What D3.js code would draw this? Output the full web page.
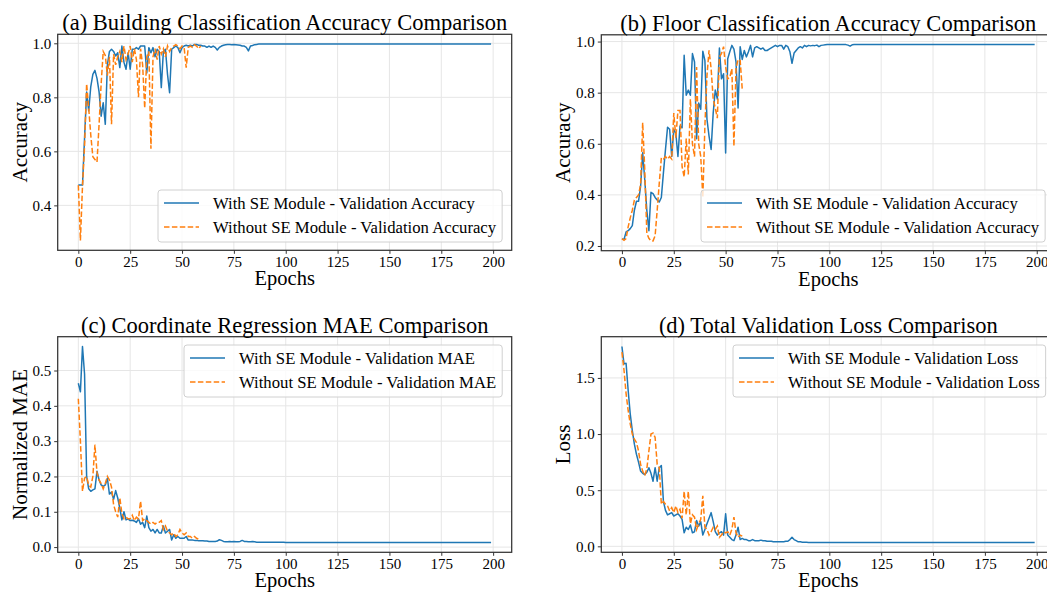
<!DOCTYPE html>
<html><head><meta charset="utf-8">
<script src="https://cdn.jsdelivr.net/npm/d3@7"></script>
<style>
body{margin:0;background:#fff}
svg{display:block}
text{font-family:"Liberation Serif","Times New Roman",serif;fill:#000}
</style>
</head><body>
<svg id="chart" width="1047" height="592"></svg>
<script>
// ---------------- DATA ----------------
const epochTicks = [0, 25, 50, 75, 100, 125, 150, 175, 200];

// (a) Building classification accuracy
const aWith = [
0.475,0.475,0.475,0.65,0.82,0.75,0.84,0.885,0.90,0.87,
0.82,0.73,0.78,0.70,0.92,0.97,0.978,0.97,0.953,0.965,
0.91,0.99,0.93,0.904,0.965,0.904,0.978,0.978,0.984,0.978,
0.99,0.99,0.99,0.89,0.984,0.965,0.984,0.95,0.978,0.97,
0.836,0.97,0.978,0.885,0.817,0.978,0.984,0.99,0.984,0.965,
0.984,0.99,0.993,0.99,0.993,0.99,0.996,0.996,0.993,0.993,
0.99,0.99,0.985,0.99,0.985,0.99,0.985,0.975,0.985,0.99,
0.993,0.995,0.996,0.996,0.995,0.996,0.995,0.994,0.993,0.99,
0.99,0.985,0.972,0.99,0.992,0.995,0.996,0.997,0.997,0.997,
0.997,0.997,0.997,0.997,0.997,0.997,0.997,0.997,0.997,0.997,
0.997,0.997,0.997,0.997,0.997,0.997,0.997,0.997,0.997,0.997,
0.997,0.997,0.997,0.997,0.997,0.997,0.997,0.997,0.997,0.997,
0.997,0.997,0.997,0.997,0.997,0.997,0.997,0.997,0.997,0.997,
0.997,0.997,0.997,0.997,0.997,0.997,0.997,0.997,0.997,0.997,
0.997,0.997,0.997,0.997,0.997,0.997,0.997,0.997,0.997,0.997,
0.997,0.997,0.997,0.997,0.997,0.997,0.997,0.997,0.997,0.997,
0.997,0.997,0.997,0.997,0.997,0.997,0.997,0.997,0.997,0.997,
0.997,0.997,0.997,0.997,0.997,0.997,0.997,0.997,0.997,0.997,
0.997,0.997,0.997,0.997,0.997,0.997,0.997,0.997,0.997,0.997,
0.997,0.997,0.997,0.997,0.997,0.997,0.997,0.997,0.997,0.997
];
const aWithout = [
0.475,0.27,0.47,0.62,0.85,0.76,0.66,0.58,0.57,0.56,
0.70,0.85,0.97,0.955,0.88,0.95,0.70,0.96,0.92,0.95,
0.97,0.93,0.99,0.94,0.96,0.99,0.93,0.98,0.94,0.80,
0.98,0.92,0.76,0.95,0.97,0.61,0.95,0.98,0.94,0.99,
0.96,0.98,0.95,0.99,0.97,0.985,0.99,0.995,0.99,0.98,
0.99,0.985,0.91,0.985,0.99,0.985,0.995,0.99,0.98,0.99
];

// (b) Floor classification accuracy
const bWith = [
0.226,0.226,0.255,0.26,0.268,0.28,0.34,0.375,0.375,0.433,
0.565,0.46,0.34,0.26,0.41,0.405,0.39,0.38,0.372,0.39,
0.486,0.578,0.665,0.657,0.55,0.657,0.64,0.55,0.67,0.663,
0.946,0.79,0.81,0.79,0.953,0.92,0.62,0.76,0.735,0.962,
0.926,0.696,0.63,0.578,0.72,0.81,0.775,0.975,0.854,0.874,
0.564,0.933,0.96,0.985,0.97,0.92,0.74,0.98,0.93,0.965,
0.94,0.96,0.985,0.94,0.975,0.98,0.975,0.97,0.975,0.965,
0.965,0.97,0.975,0.98,0.985,0.98,0.985,0.985,0.97,0.985,
0.98,0.96,0.915,0.955,0.965,0.975,0.98,0.975,0.985,0.98,
0.985,0.983,0.985,0.984,0.986,0.98,0.985,0.986,0.987,0.988,
0.988,0.988,0.988,0.988,0.988,0.988,0.988,0.988,0.988,0.986,
0.982,0.987,0.988,0.988,0.988,0.988,0.988,0.988,0.988,0.988,
0.988,0.988,0.988,0.988,0.988,0.988,0.988,0.988,0.988,0.988,
0.988,0.988,0.988,0.988,0.988,0.988,0.988,0.988,0.988,0.988,
0.988,0.988,0.988,0.988,0.988,0.988,0.988,0.988,0.988,0.988,
0.988,0.988,0.988,0.988,0.988,0.988,0.988,0.988,0.988,0.988,
0.988,0.988,0.988,0.988,0.988,0.988,0.988,0.988,0.988,0.988,
0.988,0.988,0.988,0.988,0.988,0.988,0.988,0.988,0.988,0.988,
0.988,0.988,0.988,0.988,0.988,0.988,0.988,0.988,0.988,0.988,
0.988,0.988,0.988,0.988,0.988,0.988,0.988,0.988,0.988,0.988
];
const bWithout = [
0.229,0.222,0.229,0.275,0.31,0.34,0.38,0.39,0.40,0.44,
0.683,0.5,0.25,0.23,0.22,0.22,0.24,0.34,0.446,0.545,
0.54,0.55,0.54,0.55,0.54,0.72,0.624,0.73,0.73,0.51,
0.47,0.62,0.48,0.775,0.60,0.55,0.90,0.60,0.55,0.39,
0.67,0.867,0.966,0.894,0.775,0.74,0.70,0.94,0.953,0.98,
0.90,0.854,0.86,0.894,0.59,0.894,0.93,0.926,0.814
];

// (c) Coordinate regression MAE
const cWith = [
0.464,0.44,0.568,0.49,0.20,0.165,0.158,0.162,0.165,0.215,
0.19,0.176,0.172,0.176,0.195,0.15,0.156,0.135,0.16,0.139,
0.11,0.077,0.10,0.077,0.08,0.075,0.076,0.074,0.07,0.08,
0.065,0.07,0.055,0.088,0.055,0.045,0.05,0.04,0.05,0.04,
0.04,0.06,0.04,0.045,0.05,0.02,0.035,0.025,0.03,0.025,
0.025,0.025,0.03,0.02,0.02,0.02,0.019,0.019,0.018,0.018,
0.018,0.017,0.017,0.016,0.016,0.016,0.016,0.017,0.021,0.019,
0.016,0.015,0.015,0.016,0.015,0.016,0.015,0.015,0.016,0.019,
0.016,0.016,0.015,0.015,0.016,0.015,0.014,0.014,0.014,0.014,
0.014,0.014,0.014,0.014,0.014,0.014,0.014,0.014,0.014,0.014,
0.013,0.013,0.013,0.013,0.013,0.013,0.013,0.013,0.013,0.013,
0.013,0.013,0.013,0.013,0.013,0.013,0.013,0.013,0.013,0.013,
0.013,0.013,0.013,0.013,0.013,0.013,0.013,0.013,0.013,0.013,
0.013,0.013,0.013,0.013,0.013,0.013,0.013,0.013,0.013,0.013,
0.013,0.013,0.013,0.013,0.013,0.013,0.013,0.013,0.013,0.013,
0.013,0.013,0.013,0.013,0.013,0.013,0.013,0.013,0.013,0.013,
0.013,0.013,0.013,0.013,0.013,0.013,0.013,0.013,0.013,0.013,
0.013,0.013,0.013,0.013,0.013,0.013,0.013,0.013,0.013,0.013,
0.013,0.013,0.013,0.013,0.013,0.013,0.013,0.013,0.013,0.013,
0.013,0.013,0.013,0.013,0.013,0.013,0.013,0.013,0.013,0.013
];
const cWithout = [
0.42,0.30,0.158,0.195,0.20,0.175,0.17,0.20,0.29,0.21,
0.19,0.18,0.165,0.18,0.20,0.19,0.17,0.12,0.10,0.085,
0.14,0.095,0.08,0.085,0.08,0.08,0.09,0.075,0.085,0.08,
0.13,0.075,0.08,0.075,0.07,0.065,0.07,0.065,0.07,0.07,
0.075,0.05,0.06,0.045,0.04,0.035,0.04,0.03,0.035,0.05,
0.04,0.035,0.04,0.03,0.03,0.025,0.03,0.025,0.022
];

// (d) Total validation loss
const dWith = [
1.78,1.625,1.63,1.39,1.18,1.03,0.91,0.82,0.75,0.67,
0.65,0.64,0.66,0.70,0.65,0.58,0.70,0.58,0.70,0.72,
0.40,0.32,0.28,0.29,0.30,0.27,0.28,0.29,0.27,0.24,
0.12,0.17,0.15,0.19,0.12,0.13,0.23,0.18,0.22,0.10,
0.15,0.20,0.25,0.30,0.22,0.13,0.10,0.12,0.13,0.10,
0.29,0.10,0.08,0.06,0.05,0.10,0.17,0.06,0.07,0.06,
0.06,0.05,0.05,0.06,0.05,0.05,0.05,0.055,0.05,0.05,
0.045,0.045,0.045,0.04,0.04,0.04,0.04,0.04,0.04,0.045,
0.045,0.06,0.08,0.06,0.05,0.04,0.04,0.037,0.037,0.036,
0.035,0.035,0.035,0.035,0.035,0.035,0.035,0.035,0.035,0.035,
0.035,0.035,0.035,0.035,0.035,0.035,0.035,0.035,0.035,0.035,
0.034,0.034,0.034,0.034,0.034,0.034,0.034,0.034,0.034,0.034,
0.034,0.034,0.034,0.034,0.034,0.034,0.034,0.034,0.034,0.034,
0.034,0.034,0.034,0.034,0.034,0.034,0.034,0.034,0.034,0.034,
0.034,0.034,0.034,0.034,0.034,0.034,0.034,0.034,0.034,0.034,
0.034,0.034,0.034,0.034,0.034,0.034,0.034,0.034,0.034,0.034,
0.034,0.034,0.034,0.034,0.034,0.034,0.034,0.034,0.034,0.034,
0.034,0.034,0.034,0.034,0.034,0.034,0.034,0.034,0.034,0.034,
0.034,0.034,0.034,0.034,0.034,0.034,0.034,0.034,0.034,0.034,
0.034,0.034,0.034,0.034,0.034,0.034,0.034,0.034,0.034,0.034
];
const dWithout = [
1.73,1.57,1.36,1.21,1.09,1.00,0.955,0.925,0.85,0.73,
0.67,0.63,0.69,0.85,1.00,1.01,0.97,0.73,0.70,0.375,
0.40,0.375,0.36,0.315,0.345,0.30,0.36,0.30,0.33,0.25,
0.49,0.28,0.49,0.20,0.28,0.26,0.15,0.20,0.24,0.45,
0.17,0.15,0.10,0.13,0.17,0.15,0.18,0.08,0.10,0.13,
0.12,0.13,0.10,0.15,0.26,0.12,0.08,0.10,0.09
];

const aTicks = [0.4, 0.6, 0.8, 1.0];
const bTicks = [0.2, 0.4, 0.6, 0.8, 1.0];
const cTicks = [0.0, 0.1, 0.2, 0.3, 0.4, 0.5];
const dTicks = [0.0, 0.5, 1.0, 1.5];

const titles = [
  "(a) Building Classification Accuracy Comparison",
  "(b) Floor Classification Accuracy Comparison",
  "(c) Coordinate Regression MAE Comparison",
  "(d) Total Validation Loss Comparison"
];
const yLabels = ["Accuracy", "Accuracy", "Normalized MAE", "Loss"];
const legendA = ["With SE Module - Validation Accuracy", "Without SE Module - Validation Accuracy"];
const legendC = ["With SE Module - Validation MAE", "Without SE Module - Validation MAE"];
const legendD = ["With SE Module - Validation Loss", "Without SE Module - Validation Loss"];

// ---------------- LAYOUT ----------------
const panels = [
  {title: titles[0], ylabel: yLabels[0], w: aWith, wo: aWithout, ticks: aTicks, legend: legendA,
   box: {l: 57.7, t: 34.3, r: 511.7, b: 250.3}, leg: {x: 158, y: 190}, ylabX: 20},
  {title: titles[1], ylabel: yLabels[1], w: bWith, wo: bWithout, ticks: bTicks, legend: legendA,
   box: {l: 601.3, t: 34.8, r: 1055.3, b: 250.7}, leg: {x: 701, y: 190}, ylabX: 563},
  {title: titles[2], ylabel: yLabels[2], w: cWith, wo: cWithout, ticks: cTicks, legend: legendC,
   box: {l: 57.7, t: 336.7, r: 511.7, b: 552.3}, leg: {x: 184, y: 345}, ylabX: 20},
  {title: titles[3], ylabel: yLabels[3], w: dWith, wo: dWithout, ticks: dTicks, legend: legendD,
   box: {l: 601.3, t: 336.7, r: 1055.3, b: 552.3}, leg: {x: 733, y: 345}, ylabX: 563}
];

const BLUE = "#1f77b4", ORANGE = "#ff7f0e";
const svg = d3.select("#chart");
svg.append("rect").attr("width", 1047).attr("height", 592).attr("fill", "#fff");

panels.forEach((p, i) => {
  const {l, t, r, b} = p.box;
  const n = p.w.length;
  const x = d3.scaleLinear().domain([-(n - 1) * 0.05, (n - 1) * 1.05]).range([l, r]);
  const all = p.w.concat(p.wo);
  const [mn, mx] = d3.extent(all);
  const pad = (mx - mn) * 0.05;
  const y = d3.scaleLinear().domain([mn - pad, mx + pad]).range([b, t]);

  const g = svg.append("g");
  const clipId = "clip" + i;
  svg.append("clipPath").attr("id", clipId).append("rect")
    .attr("x", l).attr("y", t).attr("width", r - l).attr("height", b - t);

  // grid
  const grid = g.append("g").attr("clip-path", `url(#${clipId})`);
  grid.selectAll(".gx").data(epochTicks).join("line")
    .attr("x1", d => x(d)).attr("x2", d => x(d)).attr("y1", t).attr("y2", b)
    .attr("stroke", "#e6e6e6").attr("stroke-width", 1);
  grid.selectAll(".gy").data(p.ticks).join("line")
    .attr("x1", l).attr("x2", r).attr("y1", d => y(d)).attr("y2", d => y(d))
    .attr("stroke", "#e6e6e6").attr("stroke-width", 1);

  // lines
  const line = d3.line().x((d, k) => x(k)).y(d => y(d));
  const lg = g.append("g").attr("clip-path", `url(#${clipId})`);
  lg.append("path").datum(p.w).attr("d", line).attr("fill", "none")
    .attr("stroke", BLUE).attr("stroke-width", 1.5).attr("stroke-linejoin", "round");
  lg.append("path").datum(p.wo).attr("d", line).attr("fill", "none")
    .attr("stroke", ORANGE).attr("stroke-width", 1.5).attr("stroke-dasharray", "5.5,2.4");

  // spines
  g.append("rect").attr("x", l).attr("y", t).attr("width", r - l).attr("height", b - t)
    .attr("fill", "none").attr("stroke", "#333").attr("stroke-width", 1.25);

  // x axis
  const xa = g.append("g").attr("transform", `translate(0,${b})`)
    .call(d3.axisBottom(x).tickValues(epochTicks).tickSize(3.5).tickPadding(2.5).tickFormat(d3.format("d")));
  xa.select(".domain").remove();
  xa.selectAll(".tick line").attr("stroke", "#333");
  xa.selectAll("text").attr("font-size", 15).attr("font-family", "Liberation Serif, serif").attr("fill", "#000");

  const ya = g.append("g").attr("transform", `translate(${l},0)`)
    .call(d3.axisLeft(y).tickValues(p.ticks).tickSize(3.5).tickPadding(3).tickFormat(d3.format(".1f")));
  ya.select(".domain").remove();
  ya.selectAll(".tick line").attr("stroke", "#333");
  ya.selectAll("text").attr("font-size", 15).attr("font-family", "Liberation Serif, serif").attr("fill", "#000");

  // title
  g.append("text").attr("x", (l + r) / 2).attr("y", t - 4)
    .attr("text-anchor", "middle").attr("font-size", 22.5).text(p.title);
  // x label
  g.append("text").attr("x", (l + r) / 2).attr("y", b + 35)
    .attr("text-anchor", "middle").attr("font-size", 20.5).text("Epochs");
  // y label
  g.append("text").attr("transform", `translate(${p.ylabX},${(t + b) / 2}) rotate(-90)`)
    .attr("text-anchor", "middle").attr("dy", "0.35em").attr("font-size", 21).text(p.ylabel);

  // legend
  const lgd = g.append("g").attr("transform", `translate(${p.leg.x},${p.leg.y})`);
  const boxRect = lgd.append("rect").attr("rx", 3).attr("ry", 3)
    .attr("fill", "#fff").attr("fill-opacity", 0.8).attr("stroke", "#d0d0d0").attr("stroke-width", 1);
  const rows = [{lab: p.legend[0], c: BLUE, dash: null}, {lab: p.legend[1], c: ORANGE, dash: "5.5,2.4"}];
  let maxW = 0;
  rows.forEach((row, k) => {
    const cy = 13 + k * 24;
    const ln = lgd.append("line").attr("x1", 6).attr("x2", 41).attr("y1", cy).attr("y2", cy)
      .attr("stroke", row.c).attr("stroke-width", 1.5);
    if (row.dash) ln.attr("stroke-dasharray", row.dash);
    const tx = lgd.append("text").attr("x", 55).attr("y", cy).attr("dy", "0.35em")
      .attr("font-size", 16.7).text(row.lab);
    maxW = Math.max(maxW, tx.node().getComputedTextLength());
  });
  boxRect.attr("x", 0).attr("y", 0).attr("width", 55 + maxW + 6).attr("height", 52);
});
</script>
</body></html>
